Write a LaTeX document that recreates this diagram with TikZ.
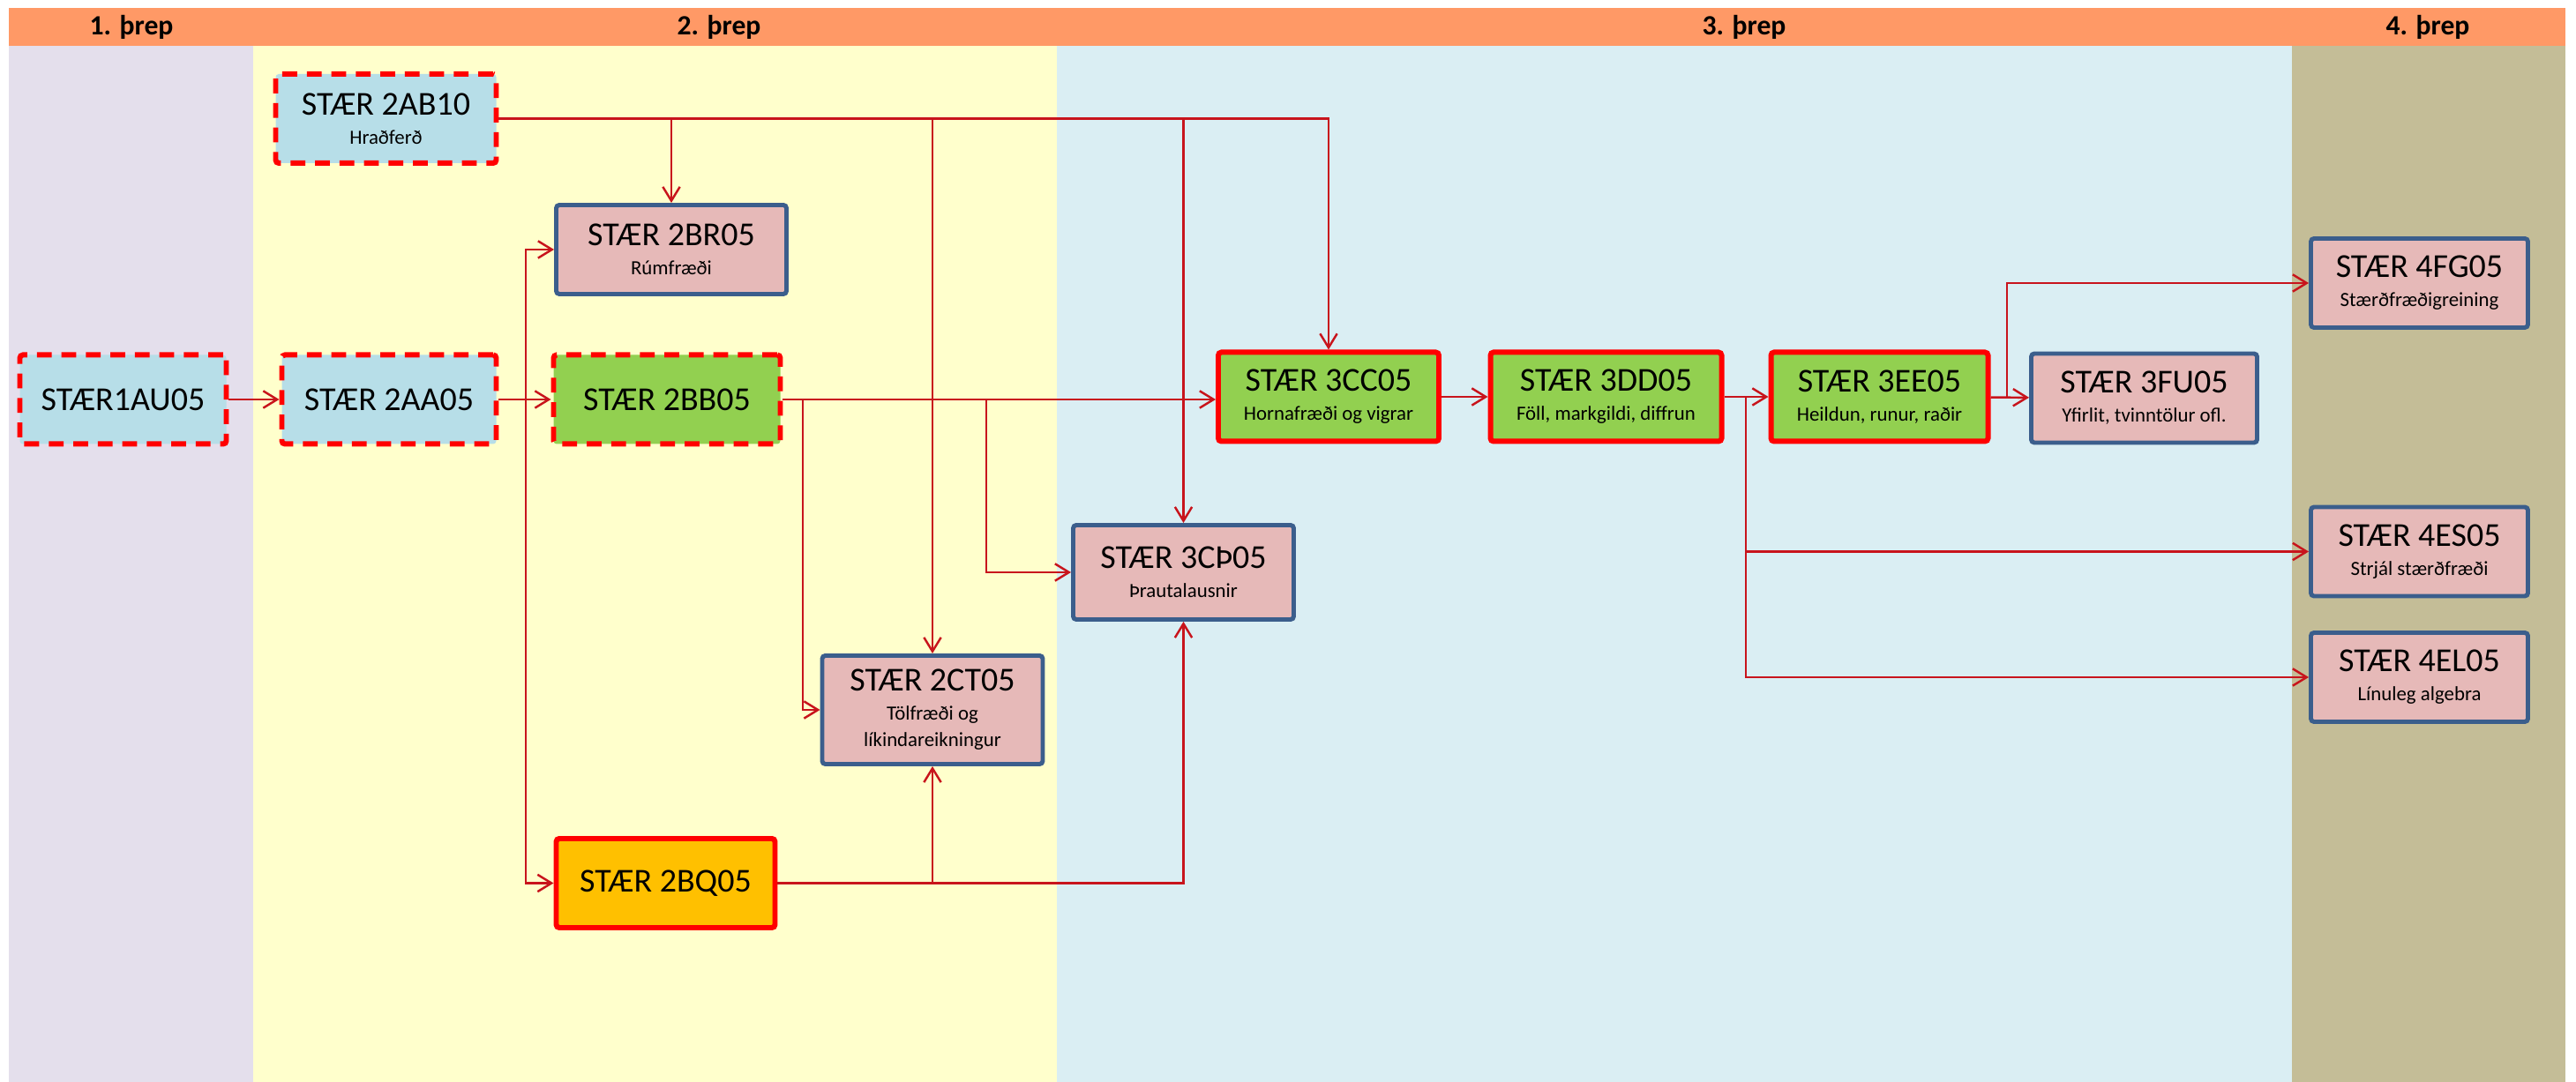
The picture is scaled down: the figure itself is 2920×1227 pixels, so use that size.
\documentclass[tikz,border=0pt]{standalone}
\usepackage{fontspec}
\setmainfont{Carlito}
\usetikzlibrary{arrows.meta}
\definecolor{hausl}{HTML}{FF9966}
\definecolor{threp1}{HTML}{E4DFEC}
\definecolor{threp2}{HTML}{FFFFCC}
\definecolor{threp3}{HTML}{DAEEF3}
\definecolor{threp4}{HTML}{C4BD97}
\definecolor{ljosblar}{HTML}{B7DEE8}
\definecolor{bleikt}{HTML}{E6B9B8}
\definecolor{graent}{HTML}{92D050}
\definecolor{gult}{HTML}{FFC000}
\definecolor{blarammi}{HTML}{3B5E8C}
\definecolor{rautt}{HTML}{FF0000}
\definecolor{linurautt}{HTML}{C8141C}
\newcommand{\kurs}[2]{{\fontsize{10.8}{13}\selectfont #1}\\[0.9pt]#2}
\tikzset{
	kassi/.style={rectangle,inner sep=0pt,rounded corners=1pt,minimum width=25mm,minimum height=10.1mm,align=center,font=\fontsize{6.5}{8.5}\selectfont},
	stor/.style={font=\fontsize{10.8}{13}\selectfont},
	valfrj/.style={kassi,draw=rautt,line width=1.7pt,dash pattern=on 4.8pt off 3.1pt,fill=ljosblar},
	kjarni/.style={kassi,draw=rautt,line width=1.7pt},
	framh/.style={kassi,draw=blarammi,line width=1.4pt,fill=bleikt},
	lina/.style={draw=linurautt,line width=0.7pt},
	pil/.style={lina,-{Straight Barb[length=4.5pt,width=5.5pt]}},
	haus/.style={font=\fontsize{9}{11}\selectfont\bfseries}
}
\begin{document}
\begin{tikzpicture}[x=0.1mm,y=-0.1mm]
	\useasboundingbox (0,0) rectangle (2920,1227);
	\fill [threp1] (10,52) rectangle (287,1227);
	\fill [threp2] (287,52) rectangle (1198,1227);
	\fill [threp3] (1198,52) rectangle (2598,1227);
	\fill [threp4] (2598,52) rectangle (2908,1227);
	\fill [hausl] (10,9) rectangle (2908,52);
	\node [haus] (h1) at (149,31) {1. þrep};
	\node [haus] (h2) at (815,31) {2. þrep};
	\node [haus] (h3) at (1977,31) {3. þrep};
	\node [haus] (h4) at (2752,31) {4. þrep};
	\node [valfrj,stor,minimum width=23.4mm] (AU) at (139.5,453) {STÆR1AU05};
	\node [valfrj] (AB) at (437.5,134.5) {\kurs{STÆR 2AB10}{Hraðferð}};
	\node [valfrj,stor,minimum width=24.3mm] (AA) at (441,453) {STÆR 2AA05};
	\node [valfrj,stor,fill=graent,minimum width=25.7mm] (BB) at (756,453) {STÆR 2BB05};
	\node [framh,minimum width=26.1mm] (BR) at (761,283) {\kurs{STÆR 2BR05}{Rúmfræði}};
	\node [kjarni,stor,fill=gult,minimum width=24.8mm] (BQ) at (754.5,1001.5) {STÆR 2BQ05};
	\node [framh,minimum height=12.3mm] (CT) at (1057,805) {\kurs{STÆR 2CT05}{Tölfræði og\\líkindareikningur}};
	\node [framh,minimum height=10.7mm] (CP) at (1341.5,649) {\kurs{STÆR 3CÞ05}{Þrautalausnir}};
	\node [kjarni,fill=graent] (CC) at (1506,450) {\kurs{STÆR 3CC05}{Hornafræði og vigrar}};
	\node [kjarni,fill=graent,minimum width=26.2mm] (DD) at (1820.5,450) {\kurs{STÆR 3DD05}{Föll, markgildi, diffrun}};
	\node [kjarni,fill=graent,minimum width=24.6mm] (EE) at (2130.5,450) {\kurs{STÆR 3EE05}{Heildun, runur, raðir}};
	\node [framh,minimum width=25.6mm] (FU) at (2430.5,451.5) {\kurs{STÆR 3FU05}{Yfirlit, tvinntölur ofl.}};
	\node [framh,minimum width=24.6mm] (FG) at (2742.5,321) {\kurs{STÆR 4FG05}{Stærðfræðigreining}};
	\node [framh,minimum width=24.6mm] (ES) at (2742.5,625.5) {\kurs{STÆR 4ES05}{Strjál stærðfræði}};
	\node [framh,minimum width=24.6mm] (EL) at (2742.5,768) {\kurs{STÆR 4EL05}{Línuleg algebra}};
	\coordinate (gA) at (596,453);
	\coordinate (gC) at (910,453);
	\coordinate (gD) at (1118,453);
	\coordinate (gE) at (1979,450);
	\coordinate (gF) at (2275,450);
	\draw [pil] (AU) -- (AA);
	\draw [pil] (AA) -- (BB);
	\draw [pil] (gA) |- (BR);
	\draw [pil] (gA) |- (BQ);
	\draw [pil] (AB) -| (CC);
	\draw [pil] (AB.east -| BR) -- (BR);
	\draw [pil] (AB.east -| CT) -- (CT);
	\draw [pil] (AB.east -| CP) -- (CP);
	\draw [pil] (BB.east) -- (BB.east -| CC.west);
	\draw [pil] (gC) |- (CT);
	\draw [pil] (gD) |- (CP);
	\draw [pil] (BQ) -| (CP);
	\draw [pil] (BQ.east -| CT) -- (CT);
	\draw [pil] (CC) -- (DD);
	\draw [pil] (DD) -- (EE);
	\draw [pil] (gE) |- (ES);
	\draw [pil] (gE) |- (EL);
	\draw [pil] (EE) -- (FU);
	\draw [pil] (gF) |- (FG);
\end{tikzpicture}
\end{document}
